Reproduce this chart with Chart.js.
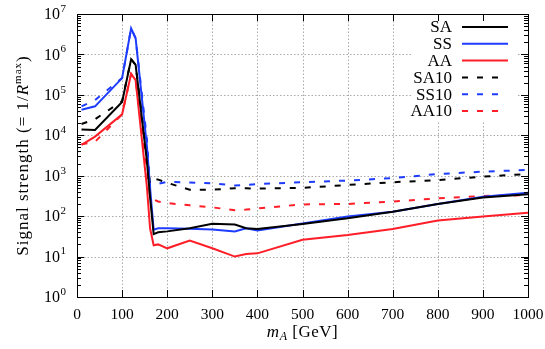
<!DOCTYPE html>
<html lang="en">
<head>
<meta charset="UTF-8">
<title>signal strength</title>
<style>
  html, body { margin: 0; padding: 0; background: #fff; }
</style>
</head>
<body>
<canvas id="myChart" width="545" height="349"></canvas>
<script src="https://cdn.jsdelivr.net/npm/chart.js"></script>
<script>
// m_A in GeV
const masses = [10, 40, 100, 120, 130, 155, 162, 170, 180, 200, 250, 300, 350, 375, 400, 500, 600, 700, 800, 900, 1000]

const SA   = [1.4e4, 1.35e4, 6.7e4, 7.6e5, 5.5e5, 2.3e3, 290, 36, 40, 42, 50, 65, 62, 50, 48, 64, 89, 129, 200, 290, 350]
const SS   = [4.3e4, 5.2e4, 2.6e5, 4.4e6, 2.5e6, 5.4e3, 500, 46, 50, 50, 49, 47, 42, 50, 44, 66, 98, 129, 200, 300, 380]
const AA   = [5.8e3, 9.3e3, 3.3e4, 3.3e5, 2.3e5, 530, 50, 19, 20, 16, 25, 16, 10, 11.5, 12, 26, 34, 48, 78, 98, 122]
const SA10 = [1.9e4, 2.5e4, 7e4, 7.6e5, 5.5e5, 3e3, 650, 850, 800, 670, 450, 450, 490, 490, 480, 500, 590, 690, 780, 950, 1100]
const SS10 = [5.2e4, 7.4e4, 2.6e5, 4.4e6, 2.5e6, 8e3, 540, 580, 630, 710, 680, 650, 570, 590, 620, 690, 760, 870, 1100, 1260, 1390]
const AA10 = [6e3, 6.9e3, 3.3e4, 3.3e5, 2.3e5, 1.5e3, 300, 260, 230, 210, 185, 165, 140, 145, 155, 195, 200, 230, 275, 315, 330]

const xTicks = [0, 100, 200, 300, 400, 500, 600, 700, 800, 900, 1000]
const yExponents = [0, 1, 2, 3, 4, 5, 6, 7]

const serif = "'Liberation Serif', 'Times New Roman', serif"
const BLUE = '#1e3cff'
const RED = '#ff1e28'

const pairs = (ys) => masses.map((m, i) => ({ x: m, y: ys[i] }))

const mkSet = (label, ys, color, dashed) => ({
  label: label,
  data: pairs(ys),
  borderColor: color,
  borderWidth: 2,
  borderDash: dashed ? [6, 9] : [],
  pointRadius: 0,
  tension: 0,
  fill: false
})

// draws text pieces (italic, sub/superscripts) one after another, centred on 0
const drawPieces = (ctx, pieces, baseY) => {
  let w = 0
  pieces.forEach(p => { ctx.font = p.f; p.w = ctx.measureText(p.t).width; w += p.w })
  let px = -w / 2
  pieces.forEach(p => { ctx.font = p.f; ctx.fillText(p.t, px, baseY + p.dy); px += p.w })
}

// grid, frame, inward ticks, legend, axis titles
const decor = {
  id: 'decor',
  beforeDatasetsDraw(chart) {
    const { ctx, chartArea: a, scales: { x, y } } = chart
    ctx.save()
    ctx.strokeStyle = '#aaaaaa'
    ctx.lineWidth = 1
    ctx.setLineDash([1.5, 2])
    ctx.beginPath()
    xTicks.slice(1, -1).forEach(v => {
      const px = Math.round(x.getPixelForValue(v)) + 0.5
      ctx.moveTo(px, a.top); ctx.lineTo(px, a.bottom)
    })
    yExponents.slice(1, -1).forEach(e => {
      const py = Math.round(y.getPixelForValue(Math.pow(10, e))) + 0.5
      ctx.moveTo(a.left, py); ctx.lineTo(a.right, py)
    })
    ctx.stroke()
    ctx.restore()
  },
  afterDatasetsDraw(chart) {
    const { ctx, chartArea: a, scales: { x, y } } = chart
    ctx.save()

    // legend
    ctx.fillStyle = '#fff'
    ctx.fillRect(411, a.top + 1, 107, 106)
    ctx.font = '17px ' + serif
    ctx.textAlign = 'right'
    ctx.textBaseline = 'middle'
    chart.data.datasets.forEach((ds, i) => {
      const ly = 27 + i * 16.8
      ctx.fillStyle = '#000'
      ctx.fillText(ds.label, 452, ly + 1)
      ctx.strokeStyle = ds.borderColor
      ctx.lineWidth = 2
      ctx.setLineDash(ds.borderDash)
      ctx.beginPath()
      ctx.moveTo(462, ly); ctx.lineTo(ds.borderDash.length ? 500 : 508, ly)
      ctx.stroke()
    })
    ctx.setLineDash([])

    // frame
    ctx.strokeStyle = '#000'
    ctx.lineWidth = 1
    ctx.strokeRect(Math.round(a.left) + 0.5, Math.round(a.top) + 0.5,
      Math.round(a.right - a.left), Math.round(a.bottom - a.top))

    // ticks
    ctx.beginPath()
    xTicks.forEach(v => {
      const px = Math.round(x.getPixelForValue(v)) + 0.5
      ctx.moveTo(px, a.bottom); ctx.lineTo(px, a.bottom - 7)
      ctx.moveTo(px, a.top); ctx.lineTo(px, a.top + 7)
    })
    yExponents.forEach(e => {
      for (let m = 1; m <= 9; m++) {
        const v = m * Math.pow(10, e)
        if (v > 1e7) break
        const len = m === 1 ? 7 : 4
        const py = Math.round(y.getPixelForValue(v)) + 0.5
        ctx.moveTo(a.left, py); ctx.lineTo(a.left + len, py)
        ctx.moveTo(a.right, py); ctx.lineTo(a.right - len, py)
      }
    })
    ctx.stroke()
    ctx.restore()
  },
  afterDraw(chart) {
    const { ctx, chartArea: a, scales: { y } } = chart
    ctx.save()
    ctx.fillStyle = '#000'

    // y tick labels 10^k
    yExponents.forEach(e => {
      const py = y.getPixelForValue(Math.pow(10, e))
      ctx.font = '16px ' + serif
      ctx.textAlign = 'right'
      ctx.textBaseline = 'middle'
      ctx.fillText('10', 60, py + 1)
      ctx.font = '11px ' + serif
      ctx.textAlign = 'left'
      ctx.fillText(String(e), 60.5, py - 5)
    })

    ctx.textAlign = 'left'
    ctx.textBaseline = 'alphabetic'

    // x title: m_A [GeV]
    ctx.save()
    ctx.letterSpacing = '0.5px'
    ctx.translate((a.left + a.right) / 2, 0)
    drawPieces(ctx, [
      { t: 'm', f: 'italic 17px ' + serif, dy: 0 },
      { t: 'A', f: 'italic 12px ' + serif, dy: 3 },
      { t: ' [GeV]', f: '17px ' + serif, dy: 0 }
    ], 337)
    ctx.restore()

    // y title
    ctx.save()
    ctx.letterSpacing = '1px'
    ctx.translate(28, (a.top + a.bottom) / 2)
    ctx.rotate(-Math.PI / 2)
    drawPieces(ctx, [
      { t: 'Signal strength (= 1/', f: '17px ' + serif, dy: 0 },
      { t: 'R', f: 'italic 17px ' + serif, dy: 0 },
      { t: 'max', f: '11px ' + serif, dy: -7 },
      { t: ')', f: '17px ' + serif, dy: 0 }
    ], 0)
    ctx.restore()

    ctx.restore()
  }
}

new Chart(document.getElementById('myChart'), {
  type: 'line',
  data: {
    datasets: [
      mkSet('SA', SA, '#000', false),
      mkSet('SS', SS, BLUE, false),
      mkSet('AA', AA, RED, false),
      mkSet('SA10', SA10, '#000', true),
      mkSet('SS10', SS10, BLUE, true),
      mkSet('AA10', AA10, RED, true)
    ]
  },
  options: {
    responsive: false,
    animation: false,
    layout: { padding: { top: 14, right: 17, left: 0, bottom: 0 } },
    plugins: { legend: { display: false }, tooltip: { enabled: false } },
    scales: {
      x: {
        type: 'linear',
        min: 0,
        max: 1000,
        grid: { display: false },
        border: { display: false },
        ticks: {
          stepSize: 100,
          autoSkip: false,
          maxRotation: 0,
          color: '#000',
          padding: 1,
          font: { family: serif, size: 15.5 },
          callback: (v) => String(v)
        },
        afterFit(scale) { scale.height = 52 }
      },
      y: {
        type: 'logarithmic',
        min: 1,
        max: 1e7,
        grid: { display: false },
        border: { display: false },
        ticks: { display: false },
        afterFit(scale) { scale.width = 77 }
      }
    }
  },
  plugins: [decor]
})
</script>
</body>
</html>
